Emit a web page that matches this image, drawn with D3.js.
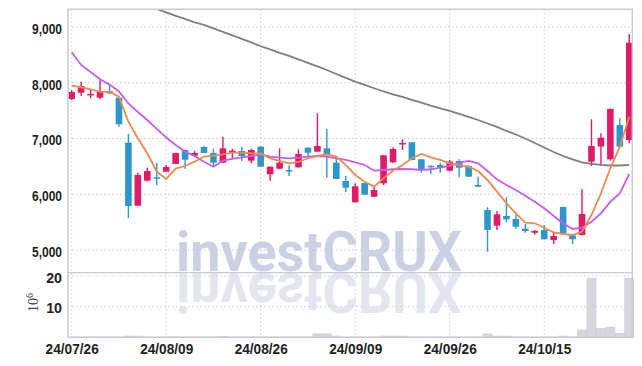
<!DOCTYPE html>
<html>
<head>
<meta charset="utf-8">
<script src="https://d3js.org/d3.v7.min.js"></script>
<style>
    body { margin: 0; background: #fff; }
    .axis text {
        font-family: 'Liberation Sans', Arial, sans-serif;
        font-weight: bold;
        font-size: 15px;
        fill: #222;
    }
    .grid { stroke: #c9cadb; stroke-width: 1; stroke-dasharray: 1.5 2.5; }
</style>
</head>
<body>
<svg id="chart" width="642" height="366"></svg>
<script>
    // trading days (yy/mm/dd)
    var dates = ["24/07/26","24/07/29","24/07/30","24/07/31","24/08/01","24/08/02","24/08/05","24/08/06","24/08/07","24/08/08",
                 "24/08/09","24/08/12","24/08/13","24/08/14","24/08/16","24/08/19","24/08/20","24/08/21","24/08/22","24/08/23",
                 "24/08/26","24/08/27","24/08/28","24/08/29","24/08/30","24/09/02","24/09/03","24/09/04","24/09/05","24/09/06",
                 "24/09/09","24/09/10","24/09/11","24/09/12","24/09/13","24/09/19","24/09/20","24/09/23","24/09/24","24/09/25",
                 "24/09/26","24/09/27","24/09/30","24/10/02","24/10/04","24/10/07","24/10/08","24/10/10","24/10/11","24/10/14",
                 "24/10/15","24/10/16","24/10/17","24/10/18","24/10/21","24/10/22","24/10/23","24/10/24","24/10/25","24/10/28"];

    var open  = [7708,7821,7790,7732,7852,7732,6925,5795,6243,6304, 6404,6543,6794,6691,6848,6740,6566,6745,6776,6602,
                 6853,6358,6458,6435,6483,6835,6763,6824,6566,6238, 5856,6202,5956,6197,6573,6896,6932,6627,6510,6525,
                 6422,6596,6507,6166,5717,5436,5610,5556,5382,5310, 5359,5179,5771,5263,5269,6584,6856,6627,7242,6973];
    var high  = [7870,8019,7880,8062,7948,7740,7081,6387,6476,6566, 6525,6745,6806,6781,6865,6817,7032,6817,6853,6817,
                 6860,6500,6824,6519,6806,6840,7452,7170,6645,6327, 6197,6205,6125,6705,6842,6985,6935,6630,6515,6566,
                 6614,6627,6519,6315,5766,5700,5945,5628,5466,5359, 5448,5328,5775,5270,6089,7344,7093,7540,7362,8870];
    var low   = [7690,7762,7720,7703,7800,7212,5569,5790,6230,6166, 6400,6540,6458,6663,6735,6494,6560,6650,6596,6555,
                 6490,6238,6450,6327,6480,6674,6760,6297,6270,6035, 5850,5990,5950,6161,6560,6794,6610,6387,6363,6387,
                 6410,6304,6310,6130,4970,5359,5497,5382,5310,5275, 5190,5107,5290,5107,5260,6507,6507,6600,6840,6913];
    var close = [7834,7942,7800,7834,7810,7255,5789,6345,6417,6280, 6489,6740,6620,6740,6740,6566,6824,6781,6686,6794,
                 6494,6494,6566,6425,6722,6745,6865,6704,6274,6117, 6143,5992,6076,6699,6812,6920,6614,6435,6490,6483,
                 6584,6476,6315,6136,5359,5640,5550,5418,5341,5341, 5192,5251,5300,5192,5646,6865,7014,7529,6853,8718];

    // volume, millions of shares
    var volume = [0.1,0.1,0.1,0.1,0.1,0.1,0.4,0.4,0.1,0.1, 0.1,0.1,0.1,0.1,0.1,0.1,0.3,0.1,0.1,0.1,
                  0.1,0.1,0.1,0.1,0.1,0.1,1.1,1.1,0.4,0.1, 0.1,0.1,0.1,0.4,0.4,0.4,0.1,0.1,0.1,0.1,
                  0.1,0.1,0.1,0.1,1.1,0.4,0.4,0.1,0.1,0.1, 0.1,0.1,0.4,0.1,2.4,19.3,2.9,3.3,1.3,19.3];

    // moving averages
    var ma5   = [7948,7919,7883,7835,7840,7750,7302,7004,6735,6405, 6274,6459,6507,6584,6674,6692,6717,6746,6746,6735,
                 6731,6645,6597,6555,6579,6645,6686,6717,6674,6525, 6346,6225,6136,6286,6423,6525,6645,6722,6663,6615,
                 6555,6520,6494,6417,6256,6046,5838,5658,5490,5479, 5400,5318,5287,5269,5328,5628,6017,6466,6853,7391];
    var ma20  = [8547,8319,8193,8062,7966,7843,7628,7476,7332,7171, 7018,6884,6764,6686,6584,6494,6602,6633,6663,6686,
                 6713,6674,6656,6645,6656,6674,6686,6674,6645,6615, 6573,6525,6423,6435,6448,6453,6448,6435,6448,6476,
                 6507,6564,6597,6555,6417,6268,6166,6076,5974,5866, 5748,5610,5479,5377,5400,5508,5658,5866,6017,6363];
    var ma120 = [9862,9808,9754,9691,9628,9566,9503,9444,9383,9324, 9261,9198,9144,9081,9037,8974,8911,8848,8785,8723,
                 8654,8597,8534,8480,8418,8355,8292,8229,8157,8086, 8019,7960,7901,7843,7793,7745,7691,7643,7589,7542,
                 7494,7440,7386,7332,7269,7207,7135,7072,7000,6920, 6839,6758,6686,6624,6570,6543,6525,6516,6516,6525];

    var priceTicks = [5000, 6000, 7000, 8000, 9000];
    var volTicks = [10, 20];
    var dateTicks = [0, 10, 20, 30, 40, 50];

    var plotLeft = 68, plotRight = 632.3, plotTop = 9.3, plotSplit = 272.7, plotBottom = 337.3;

    var svg = d3.select('#chart');
    var x = d3.scaleLinear().domain([-0.39, 59.32]).range([plotLeft, plotRight]);
    var y = d3.scaleLinear().domain([4593, 9317]).range([plotSplit, plotTop]);
    var yv = d3.scaleLinear().domain([0, 21.1]).range([plotBottom, plotSplit]);

    svg.append("defs").append("clipPath").attr("id", "priceClip")
        .append("rect").attr("x", plotLeft).attr("y", plotTop)
        .attr("width", plotRight - plotLeft).attr("height", plotSplit - plotTop);

    // grid
    svg.append("g").selectAll("line").data(priceTicks).join("line")
        .attr("class", "grid")
        .attr("x1", plotLeft).attr("x2", plotRight)
        .attr("y1", d => y(d)).attr("y2", d => y(d));
    svg.append("g").selectAll("line").data(volTicks).join("line")
        .attr("class", "grid")
        .attr("x1", plotLeft).attr("x2", plotRight)
        .attr("y1", d => yv(d)).attr("y2", d => yv(d));
    svg.append("g").selectAll("line").data(dateTicks).join("line")
        .attr("class", "grid")
        .attr("x1", d => x(d)).attr("x2", d => x(d))
        .attr("y1", plotTop).attr("y2", plotBottom);

    // watermark + reflection
    var wm = svg.append("g").attr("font-family", "Roboto, 'DejaVu Sans', sans-serif").attr("font-weight", "bold");
    wm.append("text")
        .attr("x", 176).attr("y", 271)
        .attr("font-size", 55)
        .attr("textLength", 286).attr("lengthAdjust", "spacingAndGlyphs")
        .attr("fill", "#c2c9e1").attr("fill-opacity", 0.85)
        .text("investCRUX");
    wm.append("text")
        .attr("transform", "translate(0," + (2 * 273) + ") scale(1,-1)")
        .attr("x", 176).attr("y", 273)
        .attr("font-size", 55)
        .attr("textLength", 286).attr("lengthAdjust", "spacingAndGlyphs")
        .attr("fill", "#d8dbe9").attr("fill-opacity", 0.7)
        .text("investCRUX");

    // volume bars
    svg.append("g").selectAll("rect").data(volume).join("rect")
        .attr("x", (d, i) => x(i) - 4.5)
        .attr("width", 9)
        .attr("y", d => yv(d))
        .attr("height", d => plotBottom - yv(d))
        .attr("fill", "#d6d6dd")
        .attr("stroke", "#c6c6cf")
        .attr("stroke-width", 0.6);

    // candles
    var up = "#e3196a", down = "#2e97c9";
    var candles = svg.append("g").attr("clip-path", "url(#priceClip)");
    candles.selectAll("line").data(dates).join("line")
        .attr("x1", (d, i) => x(i)).attr("x2", (d, i) => x(i))
        .attr("y1", (d, i) => y(high[i])).attr("y2", (d, i) => y(low[i]))
        .attr("stroke", (d, i) => close[i] >= open[i] ? up : down)
        .attr("stroke-width", 1.4);
    candles.selectAll("rect").data(dates).join("rect")
        .attr("x", (d, i) => x(i) - 3.3)
        .attr("width", 6.6)
        .attr("y", (d, i) => y(Math.max(open[i], close[i])))
        .attr("height", (d, i) => Math.max(1.5, Math.abs(y(open[i]) - y(close[i]))))
        .attr("fill", (d, i) => close[i] >= open[i] ? up : down);

    // moving averages
    var line = d3.line().x((d, i) => x(i)).y(d => y(d));
    var lines = svg.append("g").attr("clip-path", "url(#priceClip)").attr("fill", "none").attr("stroke-width", 1.8);
    lines.append("path").attr("d", line(ma120)).attr("stroke", "#7f7f7f");
    lines.append("path").attr("d", line(ma20)).attr("stroke", "#c95cf0");
    lines.append("path").attr("d", line(ma5)).attr("stroke", "#ef8a4f");

    // frame
    var frameColor = "#c9cad6";
    svg.append("rect")
        .attr("x", plotLeft).attr("y", plotTop)
        .attr("width", plotRight - plotLeft).attr("height", plotBottom - plotTop)
        .attr("fill", "none").attr("stroke", frameColor).attr("stroke-width", 1.5);
    svg.append("line")
        .attr("x1", plotLeft).attr("x2", plotRight).attr("y1", plotSplit).attr("y2", plotSplit)
        .attr("stroke", frameColor).attr("stroke-width", 1.2);

    // axes (labels squeezed to match the narrow face of the original)
    function squeeze(g, k) {
        g.selectAll("text").each(function() {
            var w = this.getComputedTextLength();
            d3.select(this).attr("textLength", w * k).attr("lengthAdjust", "spacingAndGlyphs");
        });
    }

    var yAxis = svg.append("g").attr("class", "axis").attr("transform", "translate(" + plotLeft + ",1.5)")
        .call(d3.axisLeft(y).tickValues(priceTicks).tickFormat(d3.format(",")).tickSize(0).tickPadding(6));
    yAxis.select(".domain").remove();
    squeeze(yAxis, 0.8);

    var vAxis = svg.append("g").attr("class", "axis").attr("transform", "translate(" + plotLeft + ",1.5)")
        .call(d3.axisLeft(yv).tickValues(volTicks).tickFormat(d => d).tickSize(0).tickPadding(6));
    vAxis.select(".domain").remove();
    squeeze(vAxis, 0.95);

    var xAxis = svg.append("g").attr("class", "axis").attr("transform", "translate(0," + plotBottom + ")")
        .call(d3.axisBottom(x).tickValues(dateTicks).tickFormat(i => dates[i]).tickSize(0).tickPadding(6));
    xAxis.select(".domain").remove();
    squeeze(xAxis, 0.91);

    // volume unit
    var unit = svg.append("text")
        .attr("transform", "translate(37.5,312) rotate(-90)")
        .attr("font-family", "'Liberation Serif', 'DejaVu Serif', serif")
        .attr("font-size", 14)
        .attr("fill", "#444");
    unit.append("tspan").text("10");
    unit.append("tspan").attr("dy", -5).attr("font-size", 10).text("6");
</script>
</body>
</html>
